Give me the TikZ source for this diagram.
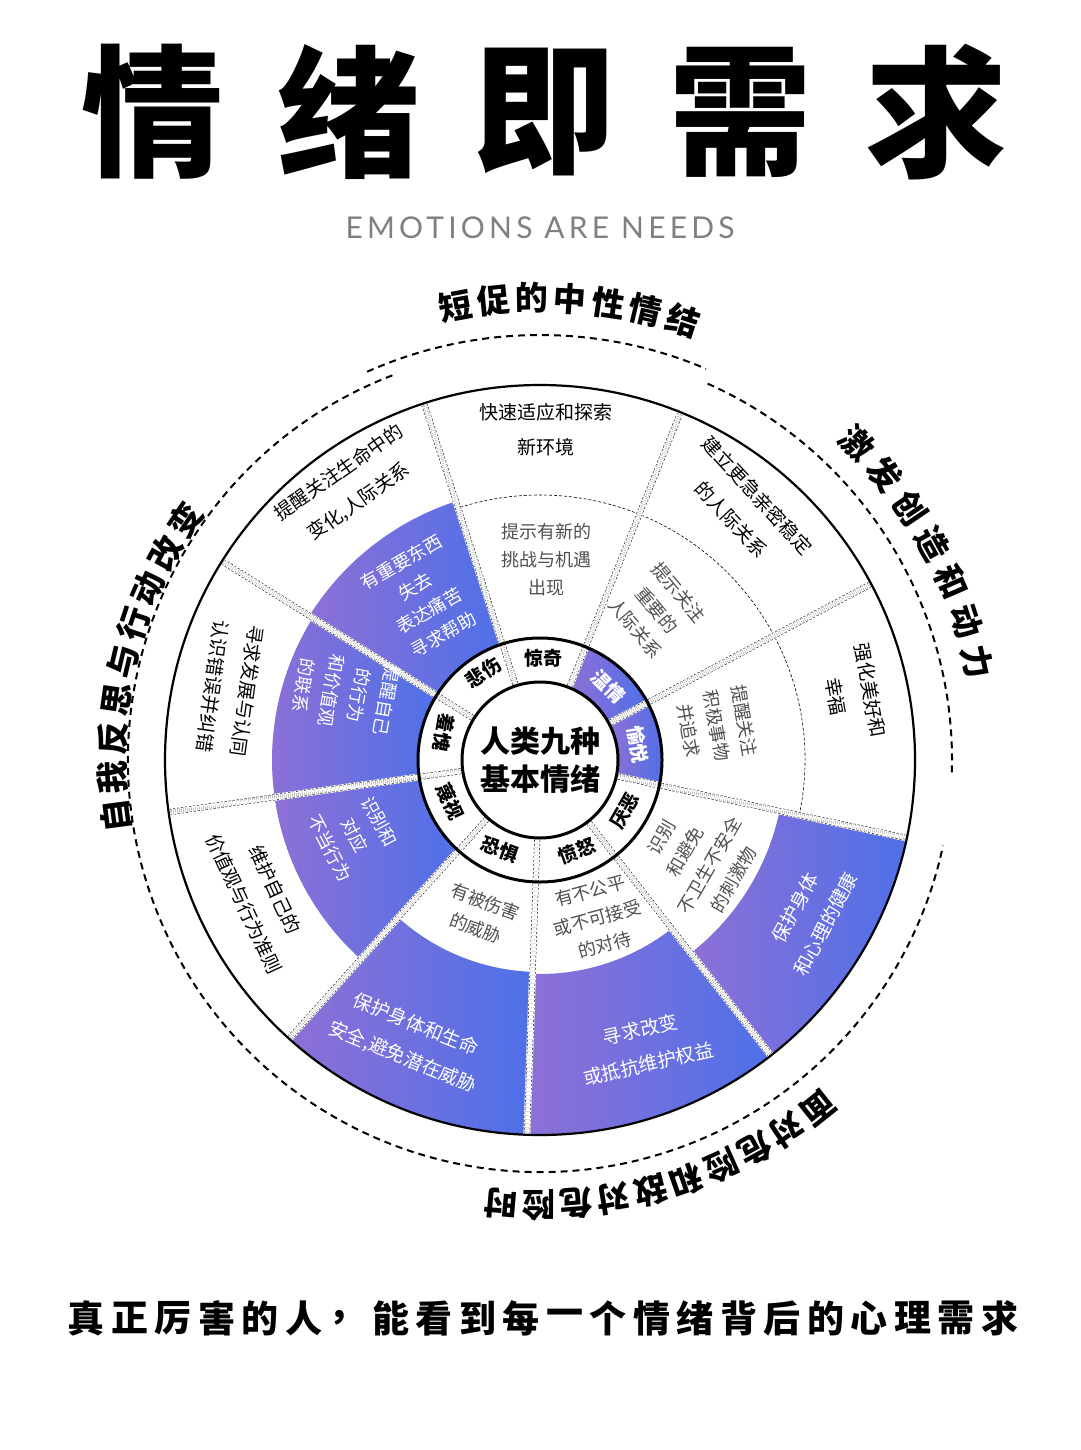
\documentclass[tikz,border=0pt]{standalone}
\usepackage{fontspec}
\setmainfont{Noto Sans CJK SC}
\newfontfamily\latinfont[LetterSpace=14]{Lato}
\usetikzlibrary{positioning}
\definecolor{purpL}{RGB}{142,112,214}
\definecolor{purpR}{RGB}{78,112,232}
\definecolor{txtgray}{RGB}{80,80,80}
\tikzset{
  purp/.style={left color=purpL, right color=purpR, draw=none},
  sepline/.style={dash pattern=on 2pt off 2pt, line width=0.5pt, double=white, double distance=5pt},
  arcdash/.style={dash pattern=on 7pt off 5pt, line width=2pt},
  outertxt/.style={align=center, font=\fontsize{19}{35}\selectfont},
  midtxt/.style={align=center, text=txtgray, font=\fontsize{18}{28}\selectfont},
  midwhite/.style={midtxt, text=white},
  emolbl/.style={font=\fontsize{19}{19}\selectfont\bfseries},
  arclbl/.style={font=\fontsize{33}{33}\selectfont\bfseries},
}
\begin{document}
\begin{tikzpicture}[x=1pt,y=1pt]
\fill[white] (0,0) rectangle (1080,-1450);
\useasboundingbox (0,0) rectangle (1080,-1450);

% Title
\foreach \ch [count=\i from 0] in {情,绪,即,需,求}
{
    \node[font=\fontsize{142}{142}\selectfont\bfseries] (title\i) at (152+196*\i,-112) {\ch};
}
\node[text=gray, font=\latinfont\fontsize{30}{30}\selectfont] (subtitle) at (540,-228) {EMOTIONS ARE NEEDS};

\begin{scope}[shift={(540,-760)}]

% Purple sectors
\foreach \a/\b/\ri/\ro in {108/148/122/272, 148/188/122/268, 188/228/122/268, 228/268/212/375, 268/308/214/375, 308/348/245/375, 28/68/78/122, -12/28/78/122}
{
    \shade[purp] (\a:\ri) arc[start angle=\a, end angle=\b, radius=\ri] -- (\b:\ro) arc[start angle=\b, end angle=\a, radius=\ro] -- cycle;
}

% Dashed middle ring
\draw[dash pattern=on 3pt off 2pt, line width=0.6pt] (-12:265) arc[start angle=-12, end angle=108, radius=265];

% Sector borders
\foreach \a in {108,68,...,-212}
{
    \draw[white, line width=7pt] (\a:78) -- (\a:375);
    \draw[sepline] (\a:80) -- (\a:373);
}

% Rings
\draw[line width=2.2pt] (0,0) circle[radius=375];
\draw[line width=3pt] (0,0) circle[radius=122];
\draw[line width=3pt, fill=white] (0,0) circle[radius=78];
\node[align=center, font=\fontsize{30}{38}\selectfont\bfseries] (core) at (0,0) {人类九种\\基本情绪};

% Emotion names
\node[emolbl, rotate=33] (sad) at (123:104) {悲伤};
\node[emolbl] (surprise) at (88:102) {惊奇};
\node[emolbl, text=white, rotate=-45] (warm) at (47:100) {温情};
\node[emolbl, text=white, rotate=-80] (joy) at (9:99) {愉悦};
\node[emolbl, rotate=60] (disgust) at (-31:99) {厌恶};
\node[emolbl, rotate=20] (anger) at (-68:98) {愤怒};
\node[emolbl, rotate=-20] (fear) at (-114:98) {恐惧};
\node[emolbl, rotate=-65] (contempt) at (-155:99) {蔑视};
\node[emolbl, rotate=-100] (shame) at (164:100) {羞愧};

% Signals
\node[midwhite, rotate=30] (sadsig) at (126:200) {有重要东西\\失去\\表达痛苦\\寻求帮助};
\node[midtxt] (surprisesig) at (88:200) {提示有新的\\挑战与机遇\\出现};
\node[midtxt, rotate=-50] (warmsig) at (52:190) {提示关注\\重要的\\人际关系};
\node[midtxt, rotate=-80] (joysig) at (11:180) {提醒关注\\积极事物\\并追求};
\node[midtxt, rotate=60] (disgustsig) at (-32:186) {识别\\和避免\\不卫生不安全\\的刺激物};
\node[midtxt, rotate=15] (angersig) at (-70:168) {有不公平\\或不可接受\\的对待};
\node[midtxt, rotate=-20] (fearsig) at (-111:166) {有被伤害\\的威胁};
\node[midwhite, rotate=-62] (contemptsig) at (-158:200) {识别和\\对应\\不当行为};
\node[midwhite, rotate=-100] (shamesig) at (161:206) {提醒自己\\的行为\\和价值观\\的联系};

% Needs
\node[outertxt, rotate=35] (sadneed) at (125:333) {提醒关注生命中的\\变化,人际关系};
\node[outertxt] (surpriseneed) at (89:330) {快速适应和探索\\新环境};
\node[outertxt, rotate=-47] (warmneed) at (51:325) {建立更急亲密稳定\\的人际关系};
\node[outertxt, rotate=-80] (joyneed) at (12:320) {强化美好和\\幸福};
\node[outertxt, text=white, rotate=62] (disgustneed) at (-30:312) {保护身体\\和心理的健康};
\node[outertxt, text=white, rotate=13] (angerneed) at (-70:305) {寻求改变\\或抵抗维护权益};
\node[outertxt, text=white, rotate=-22] (fearneed) at (-115:310) {保护身体和生命\\安全,避免潜在威胁};
\node[outertxt, rotate=-65] (contemptneed) at (-154:312) {维护自己的\\价值观与行为准则};
\node[outertxt, rotate=-98] (shameneed) at (167:318) {寻求发展与认同\\认识错误并纠错};

% Outer dashed arcs
\draw[arcdash] (114:425) arc[start angle=114, end angle=67, radius=425];
\draw[arcdash] (111:412) arc[start angle=111, end angle=348, radius=412];
\draw[arcdash] (66:412) arc[start angle=66, end angle=-2, radius=412];

% Group labels
\foreach \ch [count=\i from 0] in {短,促,的,中,性,情,结}
{
    \pgfmathsetmacro\ang{100.5-4.75*\i}
    \node[arclbl, rotate=\ang-90] (top\i) at (\ang:462) {\ch};
}
\foreach \ch [count=\i from 0] in {激,发,创,造,和,动,力}
{
    \pgfmathsetmacro\ang{45-5.4*\i}
    \node[arclbl, rotate=\ang-90] (right\i) at (\ang:448) {\ch};
}
\foreach \ch [count=\i from 0] in {面,对,危,险,和,敌,对,危,险,时}
{
    \pgfmathsetmacro\ang{-51.4-4.85*\i}
    \node[arclbl, rotate=\ang-90] (bottom\i) at (\ang:445) {\ch};
}
\foreach \ch [count=\i from 0] in {自,我,反,思,与,行,动,改,变}
{
    \pgfmathsetmacro\ang{187.5-5.2*\i}
    \node[arclbl, rotate=\ang-90] (left\i) at (\ang:428) {\ch};
}
\end{scope}

% Bottom line
\foreach \ch [count=\i from 0] in {真,正,厉,害,的,人,，,能,看,到,每,一,个,情,绪,背,后,的,心,理,需,求}
{
    \node[font=\fontsize{37}{37}\selectfont\bfseries] (foot\i) at (86+43.5*\i,-1318) {\ch};
}
\end{tikzpicture}
\end{document}
